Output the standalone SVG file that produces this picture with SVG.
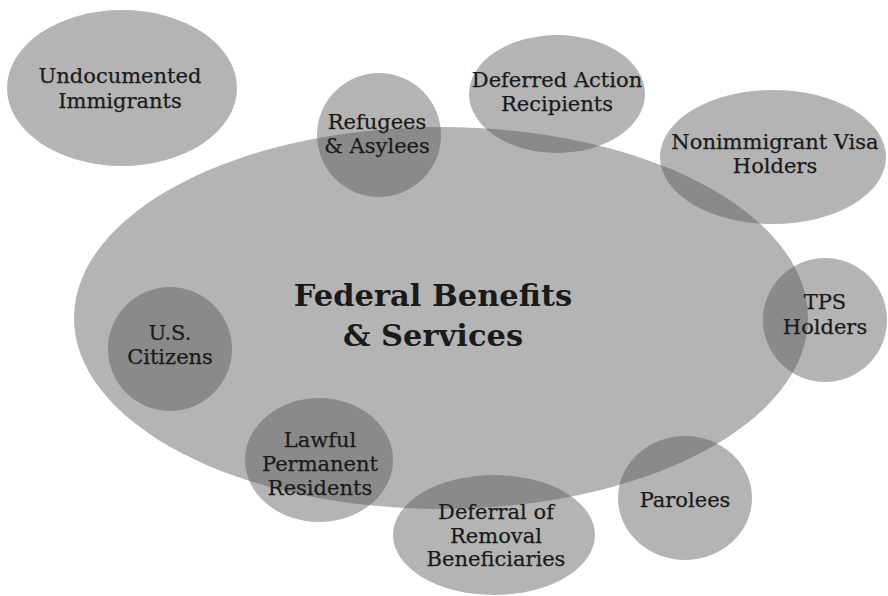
<svg xmlns="http://www.w3.org/2000/svg" width="888" height="596" viewBox="0 0 888 596">
<style>
.b{fill:#555555;fill-opacity:0.44}
.t{font-family:"DejaVu Serif","Liberation Serif",serif;font-size:21px;fill:#1a1a1a;stroke:#1a1a1a;stroke-width:0.25;text-anchor:middle}
.h{font-family:"DejaVu Serif","Liberation Serif",serif;font-size:30.5px;font-weight:bold;fill:#1a1a1a;text-anchor:middle}
</style>
<rect width="888" height="596" fill="#ffffff"/>
<g id="federal"><ellipse class="b" cx="441" cy="318" rx="367" ry="191"/></g>
<g id="undocumented"><ellipse class="b" cx="122" cy="88" rx="115" ry="78"/></g>
<g id="refugees"><ellipse class="b" cx="379" cy="135" rx="62" ry="62"/></g>
<g id="deferred-action"><ellipse class="b" cx="557" cy="94" rx="88" ry="59"/></g>
<g id="nonimmigrant"><ellipse class="b" cx="773" cy="157" rx="113" ry="67"/></g>
<g id="tps"><ellipse class="b" cx="825" cy="320" rx="62" ry="62"/></g>
<g id="citizens"><ellipse class="b" cx="170" cy="349" rx="62" ry="62"/></g>
<g id="lawful"><ellipse class="b" cx="319" cy="460" rx="74" ry="62"/></g>
<g id="deferral"><ellipse class="b" cx="494" cy="535" rx="101" ry="60"/></g>
<g id="parolees"><ellipse class="b" cx="685" cy="498" rx="67" ry="62"/></g>
<g id="labels">
<text class="t" x="120" y="83">Undocumented</text>
<text class="t" x="120" y="108">Immigrants</text>
<text class="t" x="377" y="129">Refugees</text>
<text class="t" x="377" y="153">&amp; Asylees</text>
<text class="t" x="557" y="87">Deferred Action</text>
<text class="t" x="557" y="111">Recipients</text>
<text class="t" x="775" y="149">Nonimmigrant Visa</text>
<text class="t" x="775" y="173">Holders</text>
<text class="t" x="825" y="309">TPS</text>
<text class="t" x="825" y="334">Holders</text>
<text class="t" x="170" y="340">U.S.</text>
<text class="t" x="170" y="364">Citizens</text>
<text class="t" x="320" y="447">Lawful</text>
<text class="t" x="320" y="471">Permanent</text>
<text class="t" x="320" y="495">Residents</text>
<text class="t" x="496" y="519">Deferral of</text>
<text class="t" x="496" y="543">Removal</text>
<text class="t" x="496" y="566">Beneficiaries</text>
<text class="t" x="685" y="507">Parolees</text>
<text class="h" x="433" y="306">Federal Benefits</text>
<text class="h" x="433" y="346">&amp; Services</text>
</g>
</svg>
